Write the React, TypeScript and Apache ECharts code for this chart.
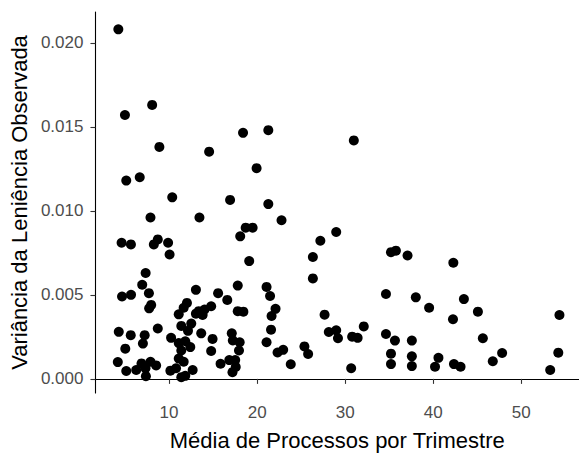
import React, { useEffect, useRef } from "react";
import * as echarts from "echarts";

const xTicks = [10, 20, 30, 40, 50];
const yTicks = [0, 0.005, 0.01, 0.015, 0.02];

const processos = [
  4.24, 8.08, 4.99, 8.9, 5.14, 6.67, 10.36, 7.89, 13.45, 4.61, 5.67, 8.27, 8.72, 9.89, 10.06,
  7.34, 6.95, 4.66, 5.68, 7.71, 7.97, 7.74, 4.29, 5.65, 7.23, 7.03, 8.72, 5.03, 4.18, 5.14,
  6.27, 6.87, 7.32, 7.89, 8.53, 7.37,
  10.23, 11.1, 11.66, 12.03, 13.05, 13.36, 14.03, 14.78, 13.05, 13.81, 11.39, 12.52, 12.15,
  11.1, 11.84, 13.65, 14.94, 14.78, 11.39, 11.1, 11.66, 10.15, 10.79, 11.84, 12.68, 11.39,
  12.41, 15.85,
  15.57, 16.61, 17.8, 17.8, 18.44, 17.12, 17.24, 18.02, 17.94, 16.84, 17.51, 17.57, 17.2,
  18.7, 19.49, 18.08, 19.1, 19.94, 18.4, 21.27, 14.55, 16.93, 21.27, 22.77, 21.07, 21.47,
  22.09, 21.64, 21.58, 21.07, 22.32, 22.96, 23.82,
  30.98, 28.98, 27.18, 26.33, 26.33, 27.66, 28.14, 28.98, 29.18, 25.37, 25.79, 30.68, 30.79,
  31.41, 32.11,
  35.2, 35.76, 37.08, 42.28, 34.63, 38.02, 39.53, 43.48, 45.07, 42.24, 54.33, 34.63, 35.65,
  37.57, 45.63, 35.2, 35.2, 37.57, 37.57, 40.59, 40.2, 42.35, 43.1, 47.82, 46.76, 54.2, 53.28,
];

const variancia = [
  0.0208, 0.0163, 0.0157, 0.0138, 0.0118, 0.012, 0.0108, 0.0096, 0.0096, 0.0081, 0.008, 0.008,
  0.0083, 0.0081, 0.0074,
  0.0063, 0.0056, 0.0049, 0.005, 0.0051, 0.0044, 0.0042, 0.0028, 0.0026, 0.0026, 0.0021, 0.003,
  0.0018, 0.001, 0.00047,
  0.00053, 0.00092, 0.00063, 0.00102, 0.0008, 0.00016,
  0.00244, 0.00384, 0.00423, 0.00452, 0.0053, 0.00403, 0.00413, 0.00432, 0.00388, 0.0038,
  0.00315, 0.00329, 0.00286,
  0.00213, 0.00224, 0.00271, 0.00238, 0.00166, 0.00169, 0.00121, 0.00102, 0.00049, 0.00063,
  0.00018, 0.00053, 0.0001,
  0.00189, 0.0009,
  0.0051, 0.0047, 0.00555, 0.00403, 0.004, 0.00271, 0.00229, 0.00218, 0.00169, 0.00112,
  0.00112, 0.00071, 0.0004,
  0.009, 0.009, 0.00848, 0.00701, 0.01254, 0.01464, 0.0148, 0.01352, 0.01065, 0.0104, 0.00944,
  0.00547, 0.00493,
  0.00417, 0.00374, 0.00293, 0.00218, 0.00157, 0.00173, 0.00087,
  0.01419, 0.00874, 0.00822, 0.00725, 0.00598, 0.00382, 0.00279, 0.00289, 0.00242, 0.00193,
  0.00148, 0.00063, 0.00251,
  0.00244, 0.00312,
  0.00754, 0.00763, 0.00734, 0.00691, 0.00505, 0.00485, 0.00423, 0.00475, 0.004, 0.00355,
  0.0038, 0.00267, 0.00228,
  0.00228, 0.00242, 0.0015, 0.00088, 0.00134, 0.00076, 0.00125, 0.00072, 0.00088, 0.00072,
  0.00154, 0.00105, 0.00156, 0.00053,
];

const xTitle = "Média de Processos por Trimestre";
const yTitle = "Variância da Leniência Observada";

export default function App() {
  const ref = useRef<HTMLDivElement>(null);
  useEffect(() => {
    if (!ref.current) return;
    const chart = echarts.init(ref.current, null, { renderer: "svg" });
    const data = processos.map((x, i) => [x, variancia[i]]);
    const font = "Liberation Sans, Arial, sans-serif";
    chart.setOption({
      animation: false,
      backgroundColor: "#ffffff",
      grid: { left: 93, right: 0, top: 12, bottom: 56, containLabel: false },
      xAxis: {
        type: "value",
        min: 1.64,
        max: 56.55,
        name: xTitle,
        nameLocation: "middle",
        nameGap: 36,
        nameTextStyle: { color: "#000000", fontSize: 22, fontFamily: font },
        axisLine: { show: true, lineStyle: { color: "#000000", width: 1.1 } },
        axisTick: { show: true, length: 5, customValues: xTicks, lineStyle: { color: "#333333", width: 1.1 } },
        axisLabel: {
          customValues: xTicks,
          color: "#4D4D4D",
          fontSize: 17,
          fontFamily: font,
          margin: 11,
        },
        splitLine: { show: false },
      },
      yAxis: {
        type: "value",
        min: -0.00084,
        max: 0.02183,
        name: yTitle,
        nameLocation: "middle",
        nameGap: 60,
        nameTextStyle: { color: "#000000", fontSize: 22, fontFamily: font },
        axisLine: { show: true, lineStyle: { color: "#000000", width: 1.1 } },
        axisTick: { show: true, length: 5, customValues: yTicks, lineStyle: { color: "#333333", width: 1.1 } },
        axisLabel: {
          customValues: yTicks,
          color: "#4D4D4D",
          fontSize: 17,
          fontFamily: font,
          margin: 12,
          formatter: (v: number) => v.toFixed(3),
        },
        splitLine: { show: false },
      },
      series: [
        {
          type: "scatter",
          data,
          symbol: "circle",
          symbolSize: 10,
          itemStyle: { color: "#000000", opacity: 1 },
        },
      ],
    });
    return () => chart.dispose();
  }, []);
  return (
    <div
      ref={ref}
      style={{ position: "fixed", left: 0, top: 0, width: 579, height: 456 }}
    />
  );
}
